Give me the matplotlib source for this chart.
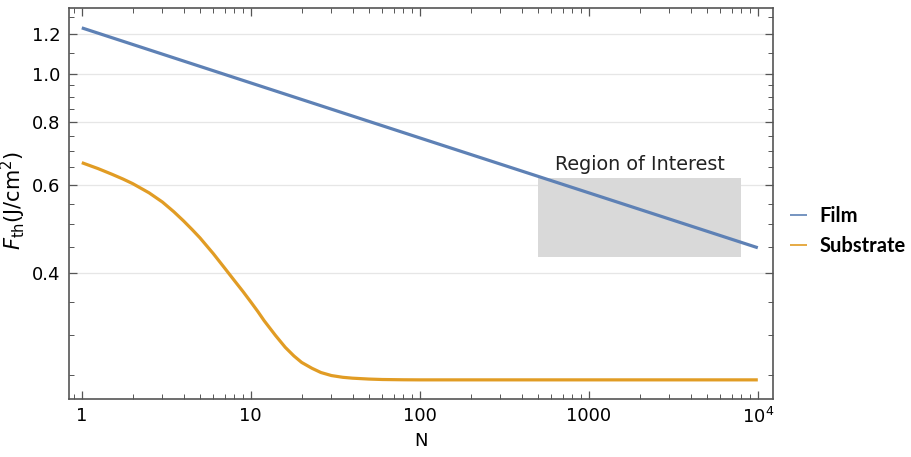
import matplotlib
matplotlib.use("Agg")
import matplotlib.pyplot as plt
from matplotlib.ticker import FixedLocator, NullFormatter, FixedFormatter
import numpy as np

# ---- data ----
film_N = [1, 10, 100, 1000, 10000]
film_F = [1.234, 0.958, 0.744, 0.578, 0.449]

sub_N = [1, 1.25, 1.5, 1.75, 2, 2.5, 3, 3.5, 4, 4.5, 5, 6, 7, 8, 9, 10, 11, 12, 14, 16,
         18, 20, 23, 26, 30, 35, 40, 50, 60, 80, 100, 10000]
sub_F = [0.664, 0.646, 0.630, 0.616, 0.603, 0.578, 0.554, 0.530, 0.508, 0.488, 0.470,
         0.437, 0.409, 0.386, 0.367, 0.350, 0.335, 0.321, 0.300, 0.284, 0.273, 0.265,
         0.258, 0.253, 0.2495, 0.2475, 0.2465, 0.2455, 0.245, 0.2447, 0.2446, 0.2446]

region_N = [500, 8000]
region_F = [0.43, 0.62]
region_label = "Region of Interest"

xticks = [1, 10, 100, 1000, 10000]
xticklabels = ["1", "10", "100", "1000", r"10$^{4}$"]
yticks = [0.4, 0.6, 0.8, 1.0, 1.2]
yticklabels = ["0.4", "0.6", "0.8", "1.0", "1.2"]
yminor = [0.25, 0.3, 0.35, 0.45, 0.5, 0.55, 0.65, 0.7, 0.75, 0.85, 0.9, 0.95, 1.1, 1.3]

series_names = ["Film", "Substrate"]
colors = ["#5E81B5", "#E19C24"]

plt.rcParams['font.family'] = ['DejaVu Sans']
plt.rcParams['mathtext.fontset'] = 'custom'
plt.rcParams['mathtext.rm'] = 'DejaVu Sans'
plt.rcParams['mathtext.it'] = 'DejaVu Sans:italic'

fig = plt.figure(figsize=(9.11, 4.57), dpi=100)
ax = fig.add_axes([69/911, 1-399/457, (773-69)/911, (399-8)/457])
ax.set_xscale('log')
ax.set_yscale('log')
ax.set_xlim(0.84, 12300)
ax.set_ylim(0.224, 1.352)

# grid
for y in yticks:
    ax.axhline(y, color='#E6E6E6', lw=0.9, zorder=0)

ax.fill_between(region_N, [region_F[0]]*2, [region_F[1]]*2, color='#D9D9D9', lw=0, zorder=1)
ax.text(np.sqrt(region_N[0]*region_N[1]), 0.657, region_label, ha='center', va='center',
        fontsize=13.8, color='#222222', zorder=3)

l1, = ax.plot(film_N, film_F, color=colors[0], lw=2.3, zorder=4, solid_capstyle='butt')
l2, = ax.plot(sub_N, sub_F, color=colors[1], lw=2.3, zorder=4, solid_capstyle='butt',
              solid_joinstyle='round')

ax.xaxis.set_major_locator(FixedLocator(xticks))
ax.xaxis.set_major_formatter(FixedFormatter(xticklabels))
xminor = [m * 10**d for d in range(-1, 5) for m in range(2, 10)]
ax.xaxis.set_minor_locator(FixedLocator(xminor))
ax.xaxis.set_minor_formatter(NullFormatter())
ax.yaxis.set_major_locator(FixedLocator(yticks))
ax.yaxis.set_major_formatter(FixedFormatter(yticklabels))
ax.yaxis.set_minor_locator(FixedLocator(yminor))
ax.yaxis.set_minor_formatter(NullFormatter())

ax.tick_params(which='both', direction='in', top=True, right=True, color='#555555')
ax.tick_params(which='major', length=6, width=0.9, labelsize=13, pad=6)
ax.tick_params(which='minor', length=3.5, width=0.7)
for s in ax.spines.values():
    s.set_color('#555555')
    s.set_linewidth(1.2)

ax.set_xlabel('N', fontsize=13, labelpad=3)
ax.set_ylabel(r'$F_{\mathrm{th}}$(J/cm$^2$)', fontsize=15)
ax.yaxis.set_label_coords((28-69)/704, (399-200)/391)

leg = fig.legend([l1, l2], series_names, loc='center left', bbox_to_anchor=(790/911, 1-231/457),
                 frameon=False, handlelength=0.85, handletextpad=0.6, labelspacing=0.5,
                 borderpad=0, borderaxespad=0,
                 prop={'family': 'Lato', 'weight': 'bold', 'size': 14.5})
for h in leg.get_lines():
    h.set_linewidth(1.2)

fig.savefig('out.png', dpi=100)
